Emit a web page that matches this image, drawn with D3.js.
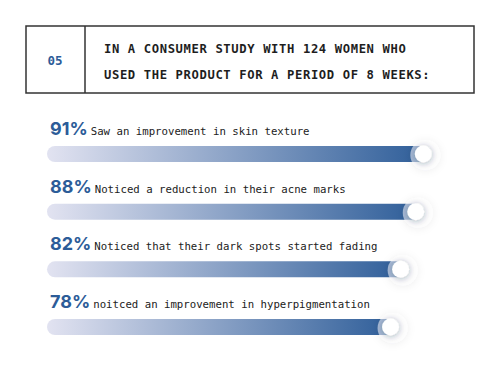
<!DOCTYPE html>
<html>
<head>
<meta charset="utf-8">
<script src="https://cdn.jsdelivr.net/npm/d3@7"></script>
<style>
  body { margin: 0; background: #fff; }
</style>
</head>
<body>
<div id="chart"></div>
<script>
var width = 500;
var height = 375;

// data
var stepNo = "05";
var headerLines = ["IN A CONSUMER STUDY WITH 124 WOMEN WHO", "USED THE PRODUCT FOR A PERIOD OF 8 WEEKS:"];
var percents = [91, 88, 82, 78];
var labels = [
  "Saw an improvement in skin texture",
  "Noticed a reduction in their acne marks",
  "Noticed that their dark spots started fading",
  "noitced an improvement in hyperpigmentation"
];

var blue = "#2c5c98";
var lowColor = "#e2e3f1";
var mono = "'DejaVu Sans Mono', 'Liberation Mono', monospace";

var svg = d3.select("#chart")
  .append("svg")
  .attr("width", width)
  .attr("height", height);

var defs = svg.append("defs");
var grad = defs.append("linearGradient")
  .attr("id", "barGrad")
  .attr("x1", "0%").attr("x2", "100%")
  .attr("y1", "0%").attr("y2", "0%");
grad.append("stop").attr("offset", "0%").attr("stop-color", lowColor);
grad.append("stop").attr("offset", "100%").attr("stop-color", blue);

function addShadow(id, blur, op) {
  var f = defs.append("filter")
    .attr("id", id)
    .attr("x", "-150%").attr("y", "-150%")
    .attr("width", "400%").attr("height", "400%");
  f.append("feDropShadow")
    .attr("dx", 0).attr("dy", 1)
    .attr("stdDeviation", blur)
    .attr("flood-color", "#1a2a50")
    .attr("flood-opacity", op);
}
addShadow("haloShadow", 4, 0.12);
addShadow("knobShadow", 3, 0.35);

// header box
var box = svg.append("g");
box.append("rect")
  .attr("x", 26).attr("y", 26)
  .attr("width", 448).attr("height", 67)
  .attr("fill", "none")
  .attr("stroke", "#333")
  .attr("stroke-width", 1.5);
box.append("line")
  .attr("x1", 85).attr("x2", 85)
  .attr("y1", 26).attr("y2", 93)
  .attr("stroke", "#333")
  .attr("stroke-width", 1.5);
box.append("text")
  .attr("x", 55).attr("y", 64.5)
  .attr("text-anchor", "middle")
  .attr("font-family", mono)
  .attr("font-weight", "bold")
  .attr("font-size", "12.5px")
  .attr("fill", blue)
  .text(stepNo);
box.selectAll(".head")
  .data(headerLines)
  .enter().append("text")
  .attr("class", "head")
  .attr("x", 104)
  .attr("y", function(d, i) { return 52.5 + i * 26; })
  .attr("font-family", mono)
  .attr("font-weight", "bold")
  .attr("font-size", "12.2px")
  .attr("letter-spacing", "0.62px")
  .attr("fill", "#1e1e1e")
  .text(function(d) { return d; });

// bars
var x = d3.scaleLinear().domain([0, 100]).range([194, 446]);
var y = d3.scalePoint().domain(d3.range(percents.length)).range([154, 327]);
var barLeft = 47, barH = 16;

var rows = svg.selectAll(".row")
  .data(percents)
  .enter().append("g")
  .attr("class", "row")
  .attr("transform", function(d, i) { return "translate(0," + y(i) + ")"; });

rows.append("rect")
  .attr("x", barLeft)
  .attr("y", -barH / 2)
  .attr("width", function(d) { return x(d) + 8 - barLeft; })
  .attr("height", barH)
  .attr("rx", barH / 2)
  .attr("fill", "url(#barGrad)");

// soft white halo round the knob
rows.append("circle")
  .attr("cx", function(d) { return x(d) + 2; })
  .attr("cy", 1)
  .attr("r", 15)
  .attr("fill", "#fff")
  .attr("fill-opacity", 0.55)
  .attr("filter", "url(#haloShadow)");

rows.append("circle")
  .attr("cx", function(d) { return x(d); })
  .attr("cy", 0)
  .attr("r", 8.5)
  .attr("fill", "#fff")
  .attr("filter", "url(#knobShadow)");

var lab = rows.append("text")
  .attr("x", 50)
  .attr("y", -19);
lab.append("tspan")
  .attr("font-family", "Inter, 'Noto Sans', sans-serif")
  .attr("font-weight", "bold")
  .attr("font-size", "18px")
  .attr("fill", blue)
  .text(function(d) { return d + "%"; });
lab.append("tspan")
  .attr("dx", 3)
  .attr("font-family", mono)
  .attr("font-size", "10.7px")
  .attr("fill", "#222")
  .text(function(d, i) { return labels[i]; });
</script>
</body>
</html>
